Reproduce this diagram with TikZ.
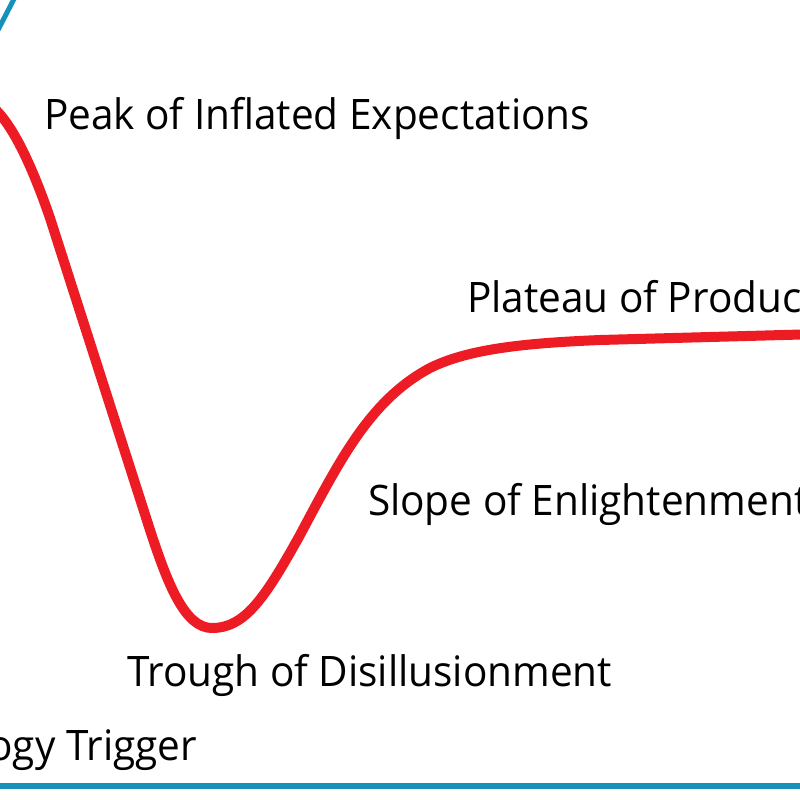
\documentclass[tikz,border=0pt]{standalone}
\usepackage{fontspec}
\setmainfont[FakeStretch=0.965]{Open Sans}
\definecolor{hypered}{RGB}{237,28,36}
\definecolor{axisblue}{RGB}{22,145,185}
\tikzset{
  phase/.style={inner sep=0pt, outer sep=0pt, anchor=base west, font=\fontsize{42}{48}\selectfont, text=black},
  hype/.style={draw=hypered, line width=10pt, line cap=round, line join=round},
  axisline/.style={draw=axisblue, line width=6pt}
}
\begin{document}
\begin{tikzpicture}[x=1pt,y=-1pt]
\useasboundingbox (0,0) rectangle (800,800);
% axis fragments
\coordinate (ya) at (-2,30);
\coordinate (yb) at (15,-3);
\draw[axisline, line width=5pt] (ya) -- (yb);
\coordinate (xa) at (-5,786);
\coordinate (xb) at (805,786);
\draw[axisline] (xa) -- (xb);
% curve
\coordinate (c0) at (-20,100);
\coordinate (c1) at (50,218);
\coordinate (c2) at (150,530);
\coordinate (c3) at (212,628);
\coordinate (c4) at (300,535);
\coordinate (c5) at (430,368);
\coordinate (c6) at (600,340);
\coordinate (c7) at (820,334);
\draw[hype] (c0) .. controls (5,106) and (30,160) .. (c1)
  -- (c2) .. controls (168,585) and (185,628) .. (c3)
  .. controls (245,628) and (265,598) .. (c4)
  .. controls (340,460) and (370,400) .. (c5)
  .. controls (470,348) and (530,343) .. (c6)
  -- (c7);
% labels
\node[phase] (peak) at (44,129) {Peak of Inflated Expectations};
\node[phase] (plateau) at (467,312) {Plateau of Productivity};
\node[phase] (slope) at (368,515) {Slope of Enlightenment};
\node[phase] (trough) at (127,686) {Trough of Disillusionment};
\node[phase, anchor=base east] (trigger) at (197,760) {Technology Trigger};
\end{tikzpicture}
\end{document}
